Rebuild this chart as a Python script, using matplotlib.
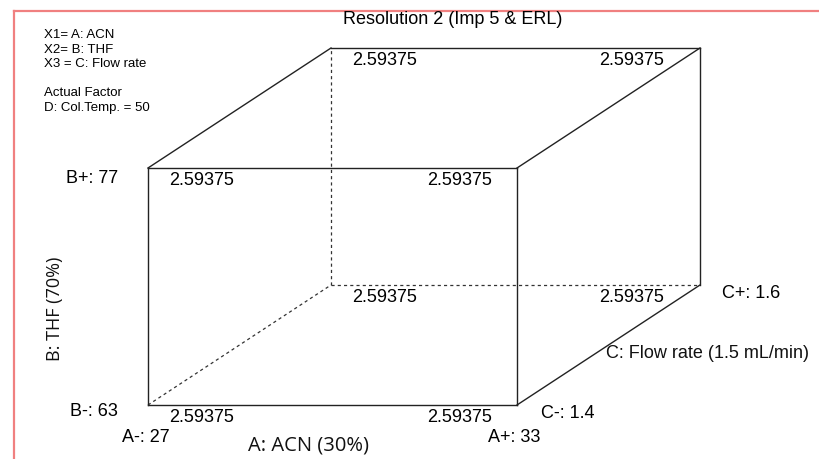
import numpy as np
import matplotlib
matplotlib.use('Agg')
import matplotlib.pyplot as plt
from matplotlib.lines import Line2D

plt.rcParams['font.family'] = ['Liberation Sans', 'DejaVu Sans']

# factor levels (low, high)
factor_A = [27, 33]      # A: ACN
factor_B = [63, 77]      # B: THF
factor_C = [1.4, 1.6]    # C: Flow rate
# response at each corner, order (A, B, C) with C fastest
corner_A = [0, 0, 0, 0, 1, 1, 1, 1]
corner_B = [0, 0, 1, 1, 0, 0, 1, 1]
corner_C = [0, 1, 0, 1, 0, 1, 0, 1]
response = [2.59375, 2.59375, 2.59375, 2.59375, 2.59375, 2.59375, 2.59375, 2.59375]

title = 'Resolution 2 (Imp 5 & ERL)'
info_lines = ['X1= A: ACN', 'X2= B: THF', 'X3 = C: Flow rate', '', 'Actual Factor', 'D: Col.Temp. = 50']

W, H = 819, 459
fig = plt.figure(figsize=(W / 100, H / 100), dpi=100)
ax = fig.add_axes([0, 0, 1, 1])
ax.axis('off')

# front face in pixels
px0, px1 = 148, 517
py0, py1 = 405, 168
fw, fh = px1 - px0, py0 - py1
ax.set_xlim(-px0 / fw, (W - px0) / fw)
ax.set_ylim(-(H - py0) / fh, py0 / fh)
depth_x, depth_y = 183 / fw, 120 / fh

def coded(v, lev):
    return (v - lev[0]) / (lev[1] - lev[0])

def proj(a, b, c):
    return a + c * depth_x, b + c * depth_y

def px(dx, dy):
    # pixel offset -> points
    return (dx * 0.72, -dy * 0.72)

# edges of the cube
hidden = (0, 0, 1)
for i in range(8):
    for j in range(i + 1, 8):
        p = (corner_A[i], corner_B[i], corner_C[i])
        q = (corner_A[j], corner_B[j], corner_C[j])
        if sum(abs(p[k] - q[k]) for k in range(3)) != 1:
            continue
        xa, ya = proj(coded(factor_A[p[0]], factor_A), coded(factor_B[p[1]], factor_B), coded(factor_C[p[2]], factor_C))
        xb, yb = proj(coded(factor_A[q[0]], factor_A), coded(factor_B[q[1]], factor_B), coded(factor_C[q[2]], factor_C))
        if p == hidden or q == hidden:
            ax.plot([xa, xb], [ya, yb], color='#333333', lw=0.9, ls=(0, (2.5, 2.5)))
        else:
            ax.plot([xa, xb], [ya, yb], color='#222222', lw=1.0)

fs = 13
# response values at the corners
for i in range(8):
    x, y = proj(corner_A[i], corner_B[i], corner_C[i])
    if corner_A[i] == 0:
        off, ha = 21, 'left'
    else:
        off, ha = (-25 if corner_C[i] == 0 else -36), 'right'
    ax.annotate('%g' % response[i], xy=(x, y), xytext=px(off, 12), textcoords='offset points',
                ha=ha, va='center', fontsize=fs, color='black')

# factor level labels
xb, yb = proj(0, 1, 0)
ax.annotate('B+: %g' % factor_B[1], xy=(xb, yb), xytext=px(-30, 10), textcoords='offset points', ha='right', va='center', fontsize=fs)
xb, yb = proj(0, 0, 0)
ax.annotate('B-: %g' % factor_B[0], xy=(xb, yb), xytext=px(-30, 7), textcoords='offset points', ha='right', va='center', fontsize=fs)
ax.annotate('A-: %g' % factor_A[0], xy=(xb, yb), xytext=px(-2, 32), textcoords='offset points', ha='center', va='center', fontsize=fs)
xb, yb = proj(1, 0, 0)
ax.annotate('A+: %g' % factor_A[1], xy=(xb, yb), xytext=px(-3, 32), textcoords='offset points', ha='center', va='center', fontsize=fs)
ax.annotate('C-: %g' % factor_C[0], xy=(xb, yb), xytext=px(24, 8), textcoords='offset points', ha='left', va='center', fontsize=fs)
xb, yb = proj(1, 0, 1)
ax.annotate('C+: %g' % factor_C[1], xy=(xb, yb), xytext=px(22, 8), textcoords='offset points', ha='left', va='center', fontsize=fs)

# axis names
lab_font = ['Open Sans', 'DejaVu Sans']
xm, ym = proj(0.5, 0, 0)
ax.annotate('A: ACN (30%)', xy=(xm, ym), xytext=px(-24, 41), textcoords='offset points', ha='center', va='center',
            fontsize=14.5, family=lab_font, color='#111111')
xm, ym = proj(0, 0.5, 0)
ax.annotate('B: THF (70%)', xy=(xm, ym), xytext=px(-93, 22), textcoords='offset points', ha='center', va='center',
            fontsize=13, family=lab_font, rotation=90, color='#111111')
xm, ym = proj(1, 0, 0.5)
ax.annotate('C: Flow rate (1.5 mL/min)', xy=(xm, ym), xytext=px(-3, 9), textcoords='offset points', ha='left', va='center',
            fontsize=fs, color='#111111')

# title and info block
fig.text(453 / W, 1 - 20 / H, title, ha='center', va='center', fontsize=13)
for k, line in enumerate(info_lines):
    if line:
        fig.text(44 / W, 1 - (35 + 14.6 * k) / H, line, ha='left', va='center', fontsize=9.5)

# frame (only top and left visible)
fig.add_artist(Line2D([14 / W, 1], [1 - 11 / H, 1 - 11 / H], color='#f08080', lw=1.6, transform=fig.transFigure))
fig.add_artist(Line2D([14 / W, 14 / W], [0, 1 - 11 / H], color='#f08080', lw=1.6, transform=fig.transFigure))

fig.savefig('out.png', dpi=100)
